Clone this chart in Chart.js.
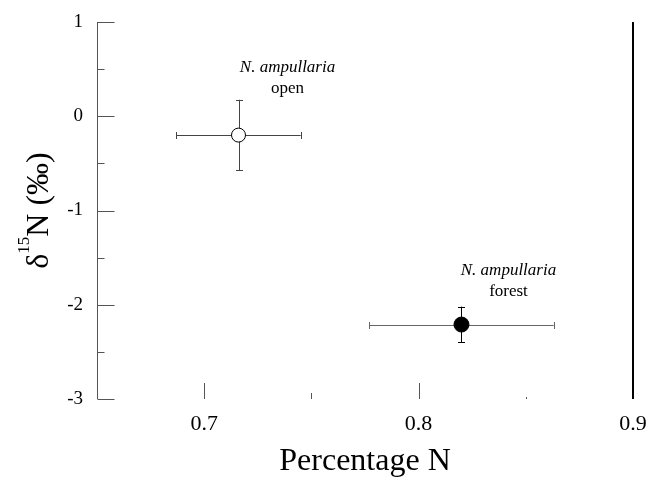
<!DOCTYPE html>
<html>
<head>
<meta charset="utf-8">
<script src="https://cdn.jsdelivr.net/npm/chart.js@4"></script>
<style>
  html, body { margin: 0; padding: 0; background: #fff; }
  #wrap { width: 649px; height: 485px; }
</style>
</head>
<body>
<div id="wrap"><canvas id="isotopeChart" width="649" height="485"></canvas></div>
<script>
// values
const groups = ['open', 'forest'];
const species = ['N. ampullaria', 'N. ampullaria'];
const percentN = [0.716, 0.820];
const percentNErr = [0.029, 0.043];
const delta15N = [-0.20, -2.21];
const delta15NErr = [0.375, 0.19];

const xTicks = [0.7, 0.8, 0.9];
const xMinorTicks = [0.75, 0.85];
const yTicks = [-3, -2, -1, 0, 1];
const yMinorTicks = [-2.5, -1.5, -0.5, 0.5];

const SERIF = "'Liberation Serif', 'Times New Roman', serif";

// axis frame, tick marks, error bars, labels (the figure has no normal grid)
const figureDecor = {
  id: 'figureDecor',
  beforeDatasetsDraw(chart) {
    const {ctx, scales: {x, y}} = chart;
    const top = y.getPixelForValue(y.max);
    const bottom = y.getPixelForValue(y.min);
    const left = Math.round(x.getPixelForValue(x.min)) + 0.5;
    const right = x.getPixelForValue(x.max);
    ctx.save();

    // y axis + ticks
    ctx.strokeStyle = '#555';
    ctx.lineWidth = 1;
    ctx.beginPath();
    ctx.moveTo(left, top);
    ctx.lineTo(left, bottom);
    yTicks.forEach(v => {
      const py = Math.round(y.getPixelForValue(v)) + 0.5;
      ctx.moveTo(left, py);
      ctx.lineTo(left + 17, py);
    });
    yMinorTicks.forEach(v => {
      const py = Math.round(y.getPixelForValue(v)) + 0.5;
      ctx.moveTo(left, py);
      ctx.lineTo(left + 7, py);
    });
    ctx.stroke();

    // x ticks stand up from the bottom
    ctx.beginPath();
    xTicks.filter(v => v < x.max).forEach(v => {
      const px = Math.round(x.getPixelForValue(v)) + 0.5;
      ctx.moveTo(px, bottom);
      ctx.lineTo(px, bottom - 16);
    });
    const minorLen = [6, 2];
    xMinorTicks.forEach((v, i) => {
      const px = Math.round(x.getPixelForValue(v)) + 0.5;
      ctx.moveTo(px, bottom);
      ctx.lineTo(px, bottom - minorLen[i]);
    });
    ctx.stroke();

    // right edge line at the last tick
    ctx.strokeStyle = '#000';
    ctx.lineWidth = 2;
    ctx.beginPath();
    ctx.moveTo(Math.round(right), top);
    ctx.lineTo(Math.round(right), bottom);
    ctx.stroke();

    // error bars
    const cap = 3.5;
    const hColor = ['#444', '#666'];
    const vColor = ['#444', '#000'];
    ctx.lineWidth = 1;
    groups.forEach((g, i) => {
      const cx = x.getPixelForValue(percentN[i]);
      const cy = Math.round(y.getPixelForValue(delta15N[i])) + 0.5;
      const x0 = x.getPixelForValue(percentN[i] - percentNErr[i]);
      const x1 = x.getPixelForValue(percentN[i] + percentNErr[i]);
      const y0 = y.getPixelForValue(delta15N[i] + delta15NErr[i]);
      const y1 = y.getPixelForValue(delta15N[i] - delta15NErr[i]);
      const vx = Math.round(cx) + 0.5;

      ctx.strokeStyle = hColor[i];
      ctx.beginPath();
      ctx.moveTo(x0, cy); ctx.lineTo(x1, cy);
      ctx.moveTo(Math.round(x0) + 0.5, cy - cap); ctx.lineTo(Math.round(x0) + 0.5, cy + cap);
      ctx.moveTo(Math.round(x1) + 0.5, cy - cap); ctx.lineTo(Math.round(x1) + 0.5, cy + cap);
      ctx.stroke();

      ctx.strokeStyle = vColor[i];
      ctx.beginPath();
      ctx.moveTo(vx, y0); ctx.lineTo(vx, y1);
      ctx.moveTo(vx - cap, Math.round(y0) + 0.5); ctx.lineTo(vx + cap, Math.round(y0) + 0.5);
      ctx.moveTo(vx - cap, Math.round(y1) + 0.5); ctx.lineTo(vx + cap, Math.round(y1) + 0.5);
      ctx.stroke();
    });
    ctx.restore();
  },
  afterDatasetsDraw(chart) {
    const {ctx, chartArea, scales: {x, y}} = chart;
    ctx.save();
    ctx.fillStyle = '#000';
    ctx.textAlign = 'center';
    ctx.textBaseline = 'alphabetic';

    // group labels above and right of each point
    const offsets = [{dx: 49, dy: -63}, {dx: 47, dy: -50}];
    groups.forEach((g, i) => {
      const px = x.getPixelForValue(percentN[i]) + offsets[i].dx;
      const py = y.getPixelForValue(delta15N[i]) + offsets[i].dy;
      ctx.font = 'italic 17px ' + SERIF;
      ctx.fillText(species[i], px, py);
      ctx.font = '17px ' + SERIF;
      ctx.fillText(g, px, py + 21);
    });

    // y title with superscript 15
    const big = '32px ' + SERIF;
    const small = '17px ' + SERIF;
    const parts = [['δ', big, 0], ['15', small, -19], ['N (‰)', big, 0]];
    let total = 0;
    parts.forEach(p => { ctx.font = p[1]; total += ctx.measureText(p[0]).width; });
    ctx.translate(48, (chartArea.top + chartArea.bottom) / 2);
    ctx.rotate(-Math.PI / 2);
    ctx.textAlign = 'left';
    let cur = -total / 2;
    parts.forEach(p => {
      ctx.font = p[1];
      ctx.fillText(p[0], cur, p[2]);
      cur += ctx.measureText(p[0]).width;
    });
    ctx.restore();
  }
};

const datasets = groups.map((g, i) => ({
  label: g,
  data: [{x: percentN[i], y: delta15N[i]}],
  pointRadius: i === 0 ? 7 : 7.5,
  pointBackgroundColor: i === 0 ? '#fff' : '#000',
  pointBorderColor: '#000',
  pointBorderWidth: 1,
  showLine: false
}));

new Chart(document.getElementById('isotopeChart'), {
  type: 'scatter',
  data: {datasets: datasets},
  options: {
    responsive: false,
    animation: false,
    events: [],
    layout: {padding: {top: 22, right: 16, left: 0, bottom: 0}},
    plugins: {legend: {display: false}, tooltip: {enabled: false}},
    scales: {
      x: {
        type: 'linear',
        min: 0.65,
        max: 0.9,
        grid: {display: false, drawTicks: false},
        border: {display: false},
        afterBuildTicks: s => { s.ticks = xTicks.map(v => ({value: v})); },
        afterFit: s => { s.height = 86; s.paddingLeft = 0; s.paddingRight = 0; },
        ticks: {
          color: '#000',
          padding: 12,
          font: {family: SERIF, size: 22},
          callback: v => v.toFixed(1)
        },
        title: {
          display: true,
          text: 'Percentage N',
          color: '#000',
          font: {family: SERIF, size: 32},
          padding: {top: 0, bottom: 4}
        }
      },
      y: {
        type: 'linear',
        min: -3,
        max: 1,
        grid: {display: false, drawTicks: false},
        border: {display: false},
        afterBuildTicks: s => { s.ticks = yTicks.map(v => ({value: v})); },
        afterFit: s => { s.width = 97; s.paddingTop = 0; s.paddingBottom = 0; },
        ticks: {
          color: '#000',
          padding: 14,
          font: {family: SERIF, size: 19},
          callback: v => String(v)
        }
      }
    }
  },
  plugins: [figureDecor]
});
</script>
</body>
</html>
